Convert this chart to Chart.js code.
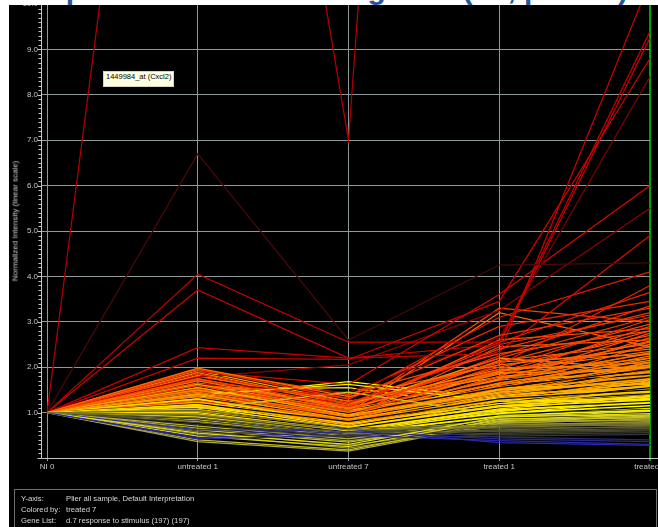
<!DOCTYPE html>
<html>
<head>
<meta charset="utf-8">
<script src="https://cdn.jsdelivr.net/npm/chart.js@4/dist/chart.umd.min.js"></script>
<style>
  html, body { margin: 0; padding: 0; background: #fff; }
  #frame { position: absolute; left: 0; top: 0; width: 658px; height: 527px; overflow: hidden; background: #000; }
  #plot { position: absolute; left: 0; top: -4px; }
  #topband { position: absolute; left: 0; top: 0; width: 658px; height: 5px; background: #fff; overflow: hidden; z-index: 5; }
  #topband span { position: absolute; left: 29px; top: -26px; font: bold 30px "Liberation Sans", Arial, sans-serif; line-height: 30px; color: #2a5597; white-space: nowrap; }
  #leftband { position: absolute; left: 0; top: 0; width: 9px; height: 527px; background: #fff; z-index: 5; }
  #ytitle { position: absolute; left: 15px; top: 221px; transform: translate(-50%, -50%) rotate(-90deg); font: 8px "Liberation Sans", Arial, sans-serif; color: #cdcdcd; white-space: nowrap; }
  #probe { position: absolute; left: 103px; top: 71px; height: 14px; padding: 0 2px; line-height: 14px; background: #ffffe1; border: 1px solid #d6d6b8; font: 7.5px "Liberation Sans", Arial, sans-serif; color: #000; white-space: nowrap; }
  #info { position: absolute; left: 14px; top: 489px; width: 641px; height: 60px; border: 1px solid #6e6e6e; font: 7.7px "Liberation Sans", Arial, sans-serif; color: #d8d8d8; }
  #info div { position: absolute; left: 6px; height: 11px; line-height: 11px; white-space: nowrap; }
  #info b { font-weight: normal; position: absolute; left: 45px; }
</style>
</head>
<body>
<div id="frame">
  <canvas id="plot" width="690" height="531"></canvas>
  <div id="topband"><span>Expression of stimulus genes (d7, p&lt;0.05)</span></div>
  <div id="leftband"></div>
  <div id="ytitle">Normalized Intensity (linear scale)</div>
  <div id="probe">1449984_at (Cxcl2)</div>
  <div id="info">
    <div style="top:3px">Y-axis:<b>Plier all sample, Default Interpretation</b></div>
    <div style="top:14px">Colored by:<b>treated 7</b></div>
    <div style="top:25px">Gene List:<b>d.7 response to stimulus (197) (197)</b></div>
  </div>
</div>
<script>
// Sample conditions along the x axis
const categories = ['NI 0', 'untreated 1', 'untreated 7', 'treated 1', 'treated 7'];

// Normalized intensity per gene: [NI 0, untreated 1, untreated 7, treated 1, treated 7]
const redGenes = [
  [1.00, 26.7, 7.00, 53.0, 48.0],
  [1.00, 6.70, 2.60, 4.25, 4.30],
  [1.00, 4.05, 2.55, 2.55, 9.40],
  [1.00, 3.70, 2.20, 2.50, 9.25],
  [1.00, 2.43, 2.20, 2.30, 10.5],
  [1.00, 2.20, 2.17, 3.45, 8.80],
  [1.00, 1.62, 1.45, 2.65, 8.40],
  [1.00, 1.90, 1.62, 3.60, 6.00],
  [1.00, 1.78, 2.05, 3.25, 5.50],
  [1.00, 1.52, 1.22, 2.35, 4.90],
  [1.00, 1.70, 1.32, 3.10, 4.10],
  [1.00, 1.45, 1.12, 2.55, 3.65],
  [1.00, 1.32, 0.92, 2.05, 3.80],
  [1.00, 1.58, 1.38, 2.90, 3.45]
];
const orangeRedGenes = [
  [1.00, 1.96, 1.30, 2.70, 3.30],
  [1.00, 1.85, 1.20, 2.40, 3.20],
  [1.00, 1.60, 1.05, 2.20, 3.10],
  [1.00, 1.40, 0.95, 1.95, 3.05],
  [1.00, 1.75, 1.15, 2.10, 2.95],
  [1.00, 1.25, 0.85, 1.80, 2.90],
  [1.00, 1.50, 1.00, 2.60, 2.85],
  [1.00, 1.95, 1.40, 2.30, 2.80],
  [1.00, 1.35, 0.80, 1.70, 2.75],
  [1.00, 1.65, 1.10, 2.00, 2.70],
  [1.00, 1.20, 0.75, 1.60, 2.65],
  [1.00, 1.45, 0.90, 2.45, 2.60],
  [1.00, 1.80, 1.25, 1.85, 2.55],
  [1.00, 1.10, 0.70, 1.50, 2.50],
  [1.00, 1.55, 0.95, 2.15, 2.50],
  [1.00, 1.30, 1.00, 3.20, 2.45],
  [1.00, 1.40, 1.05, 3.30, 3.00],
  [1.00, 1.58, 1.02, 2.25, 3.35],
  [1.00, 1.28, 0.88, 1.90, 2.80],
  [1.00, 1.72, 1.12, 2.50, 3.15],
  [1.00, 1.15, 0.78, 1.75, 2.58]
];
const orangeGenes = [
  [1.00, 1.98, 1.35, 2.05, 2.40],
  [1.00, 1.70, 1.10, 1.90, 2.35],
  [1.00, 1.45, 0.95, 1.75, 2.30],
  [1.00, 1.30, 0.85, 1.60, 2.25],
  [1.00, 1.60, 1.00, 1.85, 2.20],
  [1.00, 1.20, 0.78, 1.55, 2.20],
  [1.00, 1.50, 0.90, 1.65, 2.15],
  [1.00, 1.88, 1.20, 1.95, 2.10],
  [1.00, 1.35, 0.82, 1.45, 2.10],
  [1.00, 1.10, 0.72, 1.40, 2.05],
  [1.00, 1.55, 1.05, 1.70, 2.05],
  [1.00, 1.25, 0.88, 1.80, 2.00],
  [1.00, 1.42, 0.80, 1.50, 2.00],
  [1.00, 1.65, 1.15, 2.20, 1.95],
  [1.00, 1.15, 0.70, 1.35, 1.95],
  [1.00, 1.38, 0.92, 1.58, 1.90],
  [1.00, 1.05, 0.65, 1.30, 1.90],
  [1.00, 1.75, 1.08, 1.62, 1.88],
  [1.00, 1.28, 0.75, 1.48, 1.85],
  [1.00, 1.48, 1.02, 1.72, 1.85],
  [1.00, 1.18, 0.83, 1.42, 1.82],
  [1.00, 1.92, 1.25, 1.78, 1.80],
  [1.00, 1.33, 0.68, 1.38, 1.80],
  [1.00, 1.08, 0.90, 1.52, 1.78],
  [1.00, 1.62, 0.98, 1.92, 2.45],
  [1.00, 1.22, 0.80, 1.66, 2.32],
  [1.00, 1.82, 1.18, 2.12, 2.28],
  [1.00, 1.12, 0.74, 1.44, 2.12],
  [1.00, 1.46, 0.87, 1.60, 2.02],
  [1.00, 1.36, 0.96, 1.88, 1.92],
  [1.00, 1.02, 0.66, 1.32, 1.86]
];
const amberGenes = [
  [1.00, 1.40, 0.85, 1.40, 1.75],
  [1.00, 1.22, 0.72, 1.30, 1.72],
  [1.00, 1.55, 0.95, 1.45, 1.70],
  [1.00, 1.05, 0.62, 1.25, 1.68],
  [1.00, 1.30, 0.78, 1.35, 1.65],
  [1.00, 1.15, 0.88, 1.50, 1.65],
  [1.00, 1.62, 1.05, 1.55, 1.62],
  [1.00, 0.98, 0.60, 1.18, 1.60],
  [1.00, 1.25, 0.70, 1.28, 1.60],
  [1.00, 1.45, 0.92, 1.38, 1.58],
  [1.00, 1.12, 0.66, 1.22, 1.55],
  [1.00, 1.35, 0.80, 1.32, 1.55],
  [1.00, 0.95, 0.58, 1.15, 1.52],
  [1.00, 1.20, 0.74, 1.26, 1.50],
  [1.00, 1.50, 1.10, 1.42, 1.50],
  [1.00, 1.02, 0.64, 1.20, 1.48],
  [1.00, 1.28, 0.86, 1.34, 1.46],
  [1.00, 1.08, 0.69, 1.16, 1.45],
  [1.00, 1.38, 0.76, 1.24, 1.42],
  [1.00, 0.92, 0.56, 1.12, 1.40],
  [1.00, 1.32, 0.82, 1.46, 1.74],
  [1.00, 1.10, 0.68, 1.20, 1.66],
  [1.00, 1.58, 1.00, 1.50, 1.64],
  [1.00, 0.96, 0.62, 1.24, 1.58],
  [1.00, 1.18, 0.72, 1.30, 1.52],
  [1.00, 1.42, 0.84, 1.28, 1.47],
  [1.00, 1.04, 0.60, 1.14, 1.43]
];
const yellowGenes = [
  [1.00, 1.18, 0.68, 1.15, 1.38],
  [1.00, 1.00, 0.60, 1.08, 1.36],
  [1.00, 1.30, 0.75, 1.20, 1.35],
  [1.00, 0.90, 0.55, 1.02, 1.32],
  [1.00, 1.12, 0.64, 1.10, 1.30],
  [1.00, 1.40, 1.62, 1.25, 1.30],
  [1.00, 0.96, 0.58, 1.05, 1.28],
  [1.00, 1.24, 0.70, 1.12, 1.26],
  [1.00, 0.85, 0.52, 0.98, 1.25],
  [1.00, 1.06, 0.62, 1.06, 1.22],
  [1.00, 1.35, 1.68, 1.30, 1.20],
  [1.00, 0.80, 0.50, 0.95, 1.20],
  [1.00, 1.16, 0.66, 1.04, 1.18],
  [1.00, 0.94, 0.57, 1.00, 1.15],
  [1.00, 1.26, 0.73, 1.08, 1.14],
  [1.00, 0.88, 0.54, 0.96, 1.12],
  [1.00, 1.10, 0.63, 0.98, 1.10],
  [1.00, 0.78, 0.48, 0.92, 1.08],
  [1.00, 1.02, 0.61, 0.99, 1.06],
  [1.00, 0.92, 0.56, 0.94, 1.05],
  [1.00, 1.20, 0.70, 1.02, 1.03],
  [1.00, 0.84, 0.53, 0.90, 1.02],
  [1.00, 1.50, 1.55, 1.10, 1.00],
  [1.00, 1.14, 0.65, 1.16, 1.34],
  [1.00, 0.98, 0.59, 1.06, 1.29],
  [1.00, 1.22, 0.69, 1.14, 1.24],
  [1.00, 0.86, 0.55, 1.00, 1.21],
  [1.00, 1.08, 0.62, 1.03, 1.16],
  [1.00, 0.93, 0.57, 0.97, 1.11],
  [1.00, 1.28, 0.74, 1.06, 1.07]
];
const oliveGenes = [
  [1.00, 0.55, 0.30, 0.90, 0.98],
  [1.00, 0.48, 0.25, 0.85, 0.95],
  [1.00, 1.08, 1.45, 0.95, 0.93],
  [1.00, 0.62, 0.35, 0.82, 0.92],
  [1.00, 0.40, 0.18, 0.80, 0.90],
  [1.00, 0.70, 0.42, 0.86, 0.88],
  [1.00, 0.36, 0.15, 0.76, 0.86],
  [1.00, 0.66, 0.38, 0.78, 0.84],
  [1.00, 1.02, 0.55, 0.83, 0.82],
  [1.00, 0.52, 0.22, 0.72, 0.80],
  [1.00, 0.90, 0.52, 0.74, 0.78],
  [1.00, 0.58, 0.28, 0.70, 0.76]
];
const greyGenes = [
  [1.00, 0.95, 0.62, 0.68, 0.74],
  [1.00, 1.05, 0.66, 0.72, 0.72],
  [1.00, 0.88, 0.55, 0.62, 0.70],
  [1.00, 1.00, 0.60, 0.66, 0.68],
  [1.00, 0.82, 0.50, 0.60, 0.65],
  [1.00, 0.92, 0.58, 0.58, 0.62],
  [1.00, 0.78, 0.46, 0.55, 0.60],
  [1.00, 0.86, 0.52, 0.52, 0.56],
  [1.00, 0.74, 0.44, 0.48, 0.52]
];
const blueGenes = [
  [1.00, 0.42, 0.50, 0.38, 0.30],
  [1.00, 0.45, 0.58, 0.42, 0.36],
  [1.00, 0.62, 0.62, 0.34, 0.28],
  [1.00, 0.50, 0.66, 0.46, 0.40]
];
// Genes without a usable treated 7 call, drawn black
const unflaggedGenes = [
  [1.00, 1.20, 0.80, 1.30, 1.50],
  [1.00, 1.00, 0.65, 1.10, 1.25],
  [1.00, 1.45, 0.98, 1.55, 1.95],
  [1.00, 0.88, 0.58, 0.95, 1.12],
  [1.00, 1.32, 0.88, 1.40, 1.70],
  [1.00, 1.10, 0.72, 1.18, 1.38],
  [1.00, 0.76, 0.46, 0.84, 0.88],
  [1.00, 1.58, 1.05, 1.68, 2.15],
  [1.00, 0.95, 0.60, 1.02, 1.18],
  [1.00, 1.26, 0.82, 1.22, 1.55],
  [1.00, 0.68, 0.40, 0.74, 0.80],
  [1.00, 1.05, 0.70, 1.08, 1.32],
  [1.00, 1.40, 0.86, 1.35, 1.62],
  [1.00, 0.82, 0.52, 0.88, 1.00],
  [1.00, 1.50, 0.94, 1.60, 1.85],
  [1.00, 1.15, 0.76, 1.24, 1.42],
  [1.00, 0.92, 0.55, 0.98, 1.08],
  [1.00, 1.36, 0.90, 1.46, 1.78]
];

// Colour ramp keyed on the treated 7 value
const rampStops = [
  [0.25, [40, 40, 180]], [0.35, [40, 40, 140]], [0.45, [45, 45, 72]],
  [0.55, [55, 55, 50]], [0.70, [95, 95, 50]], [0.85, [170, 165, 50]],
  [1.00, [235, 230, 20]], [1.15, [255, 255, 0]], [1.40, [255, 215, 0]],
  [1.70, [255, 170, 0]], [2.10, [255, 130, 0]], [2.70, [255, 80, 0]],
  [3.40, [240, 40, 0]], [5.00, [215, 10, 0]], [10.0, [200, 0, 0]]
];
function rampColour(v) {
  if (v <= rampStops[0][0]) return 'rgb(' + rampStops[0][1].join(',') + ')';
  for (let i = 1; i < rampStops.length; i++) {
    const [v1, c1] = rampStops[i];
    if (v <= v1) {
      const [v0, c0] = rampStops[i - 1];
      const t = (v - v0) / (v1 - v0);
      return 'rgb(' + c0.map((c, k) => Math.round(c + (c1[k] - c) * t)).join(',') + ')';
    }
  }
  return 'rgb(' + rampStops[rampStops.length - 1][1].join(',') + ')';
}
// A few faint traces in the high group
const redShade = { 0: '#b00000', 1: '#4a0808', 6: '#7a0000', 8: '#900000' };

const groups = [
  { rows: greyGenes }, { rows: blueGenes }, { rows: oliveGenes },
  { rows: yellowGenes }, { rows: amberGenes }, { rows: orangeGenes },
  { rows: unflaggedGenes, colour: () => '#050505' },
  { rows: orangeRedGenes }, { rows: redGenes, colour: (r, i) => redShade[i] || rampColour(r[4]) }
];

// Interleave groups so the colours mix in drawing order
const datasets = [];
const longest = Math.max(...groups.map(g => g.rows.length));
for (let i = 0; i < longest; i++) {
  groups.forEach(g => {
    if (i < g.rows.length) {
      const row = g.rows[i];
      const col = g.colour ? g.colour(row, i) : rampColour(row[4]);
      datasets.push({
        data: row,
        borderColor: col,
        borderWidth: 1.25,
        pointRadius: 0,
        tension: 0,
        fill: false
      });
    }
  });
}

const axisColour = '#c4c8c8';
const gridColour = '#8e9a9a';

// Y axis line with minor ticks, plus the x axis line
const axisLines = {
  id: 'axisLines',
  beforeDatasetsDraw(chart) {
    const { ctx, chartArea, scales } = chart;
    const y = scales.y;
    const ax = Math.round(chartArea.left) - 5.5;
    ctx.save();
    ctx.strokeStyle = axisColour;
    ctx.lineWidth = 1;
    ctx.beginPath();
    ctx.moveTo(ax, 0);
    ctx.lineTo(ax, Math.round(chartArea.bottom) + 0.5);
    ctx.lineTo(chart.width, Math.round(chartArea.bottom) + 0.5);
    ctx.stroke();
    ctx.beginPath();
    for (let k = 0; k <= 100; k++) {
      const py = Math.round(y.getPixelForValue(k / 10)) + 0.5;
      ctx.moveTo(ax - (k % 10 === 0 ? 4 : 3), py);
      ctx.lineTo(ax, py);
    }
    ctx.stroke();
    ctx.restore();
  }
};

new Chart(document.getElementById('plot'), {
  type: 'line',
  data: { labels: categories, datasets },
  options: {
    responsive: false,
    animation: false,
    events: [],
    layout: { padding: { top: 0, right: 40, bottom: 0, left: 0 } },
    plugins: { legend: { display: false }, tooltip: { enabled: false } },
    scales: {
      x: {
        offset: false,
        grid: {
          color: c => c.index === 4 ? '#00a400' : gridColour,
          lineWidth: c => c.index === 4 ? 2 : 1,
          tickLength: 3
        },
        border: { display: false },
        ticks: {
          color: axisColour,
          padding: 1,
          maxRotation: 0,
          autoSkip: false,
          font: { family: 'Liberation Sans, Arial, sans-serif', size: 8 }
        },
        afterFit: s => { s.height = 69; }
      },
      y: {
        min: 0,
        max: 10,
        grid: { color: gridColour, lineWidth: 1, tickLength: 5 },
        border: { display: false },
        ticks: {
          stepSize: 1,
          color: axisColour,
          padding: 4,
          font: { family: 'Liberation Sans, Arial, sans-serif', size: 8, lineHeight: 1 },
          callback: v => v === 0 ? '' : Number(v).toFixed(1)
        },
        afterFit: s => { s.width = 47; }
      }
    }
  },
  plugins: [axisLines]
});
</script>
</body>
</html>
